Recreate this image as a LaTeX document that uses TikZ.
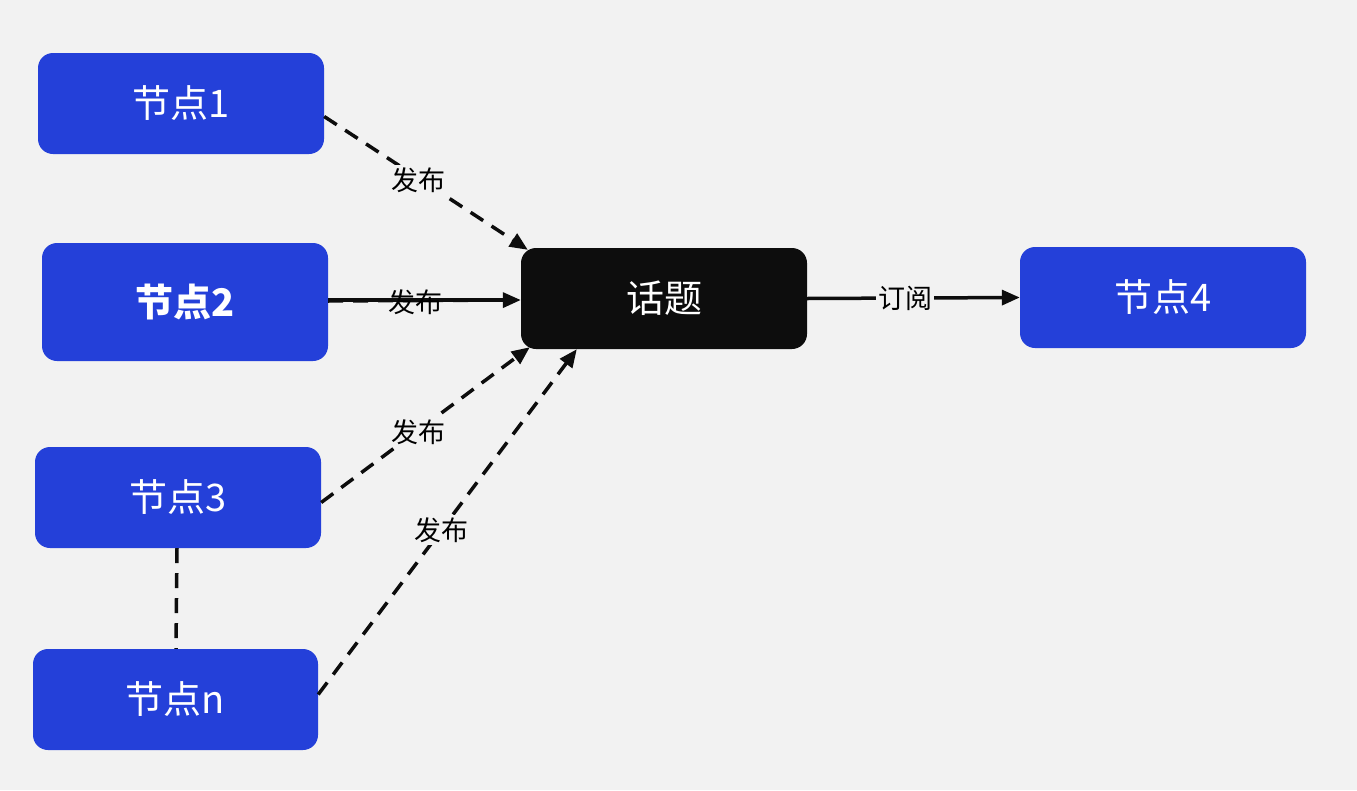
\documentclass[tikz,border=0pt]{standalone}
\usepackage{fontspec}
\setmainfont{Noto Sans CJK SC}
\usetikzlibrary{arrows.meta,calc}
\definecolor{bg}{HTML}{F2F2F2}
\definecolor{nodeblue}{HTML}{2440D9}
\definecolor{topicblack}{HTML}{0D0D0D}
\begin{document}
\begin{tikzpicture}[x=1pt,y=-1pt,
  bluebox/.style={fill=nodeblue, rounded corners=15pt, text=white, font=\fontsize{38}{44}\selectfont,
    minimum width=286pt, minimum height=101pt, inner sep=0pt},
  topicbox/.style={bluebox, fill=topicblack},
  conn/.style={line width=3.5pt, draw=topicblack},
  dashconn/.style={conn, dash pattern=on 15pt off 10pt},
  arr/.style={-{Triangle[length=18pt,width=15pt]}},
  lbl/.style={fill=bg, text=black, inner sep=2pt, font=\fontsize{27}{30}\selectfont}]
\fill[bg] (0,0) rectangle (1357,790);
\useasboundingbox (0,0) rectangle (1357,790);
% nodes
\node[bluebox] (n1) at (181,103.5) {节点1};
\node[bluebox, minimum height=118pt, font=\fontsize{38}{44}\selectfont\bfseries] (n2) at (185,302) {节点2};
\node[bluebox] (n3) at (178,497.5) {节点3};
\node[bluebox, minimum width=285pt] (nn) at (175.5,699.5) {节点n};
\node[topicbox] (t) at (664,298.5) {话题};
\node[bluebox] (n4) at (1163,297.5) {节点4};
% connectors
\draw[dashconn, arr] ($(n1.east)+(0,13)$) -- ($(t.north west)+(7,2)$);
\node[lbl] (l1) at (418,180) {发布};
\draw[conn] ($(n2.east)+(0,-2)$) -- ($(t.west)+(-14,1.5)$);
\draw[dashconn, arr] ($(n2.east)+(0,-1)$) -- ($(t.west)+(0,1.5)$);
\node[lbl, fill=none] (l2) at (415,302) {发布};
\draw[dashconn, arr] ($(n3.east)+(0,5)$) -- ($(t.south west)+(9,-2)$);
\node[lbl] (l3) at (418,432) {发布};
\draw[dashconn, arr] ($(nn.east)+(0,-5)$) -- ($(t.south west)+(56,0)$);
\node[lbl] (l4) at (441,530) {发布};
\draw[dashconn] ($(n3.south)+(-1,0)$) -- ($(nn.north)+(0.5,0)$);
\draw[conn, arr] (t.east) -- (n4.west);
\node[lbl] (l5) at (905,298) {订阅};
\end{tikzpicture}
\end{document}
